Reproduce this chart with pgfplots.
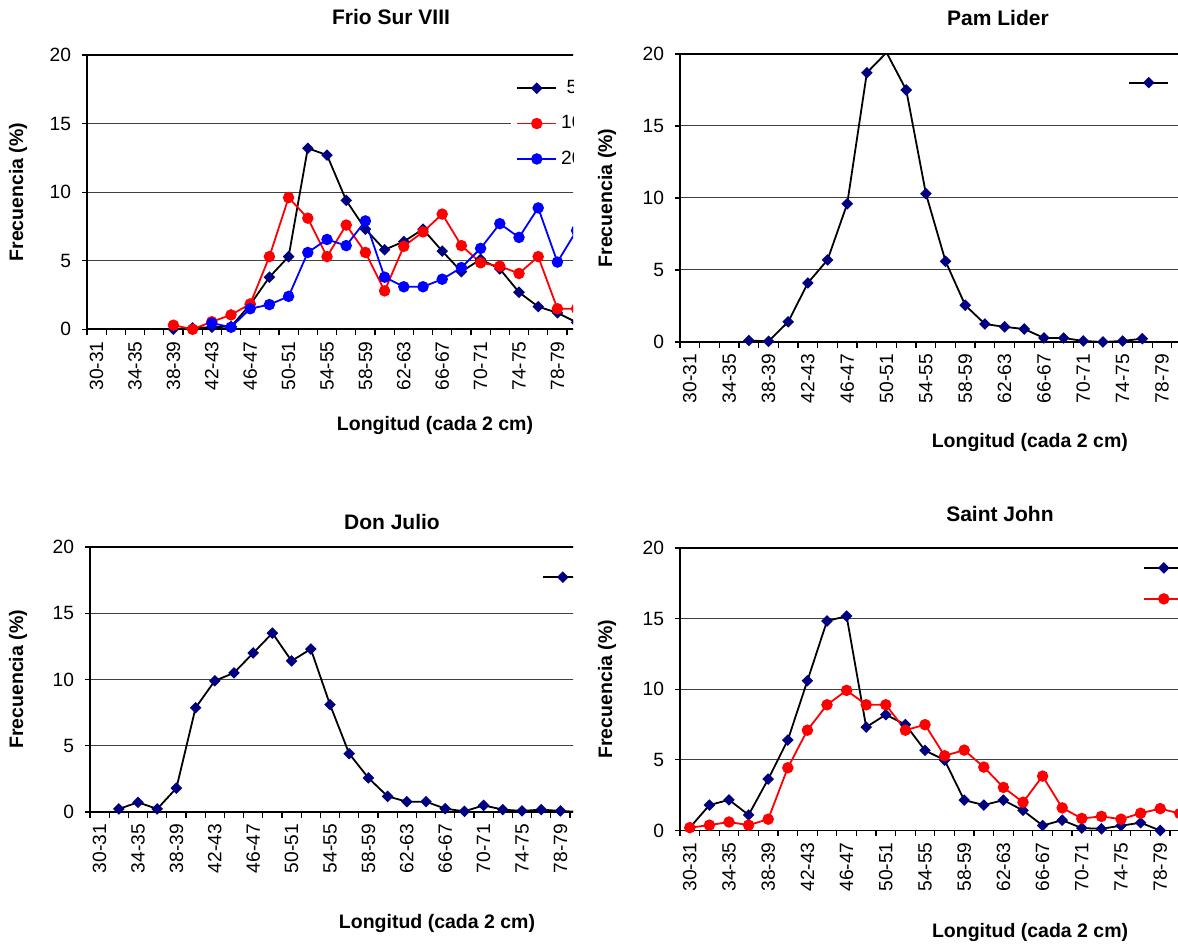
\documentclass[border=0pt]{standalone}
\usepackage{fontspec}
\setmainfont{Liberation Sans}
\usepackage{pgfplots}
\usepackage{pgfplotstable}
\pgfplotsset{compat=1.18}
\definecolor{navy}{RGB}{0,0,128}
\newcommand{\ticksize}{\fontsize{9.6}{11}\selectfont}
\newcommand{\labelfont}{\bfseries\fontsize{9.75}{11}\selectfont}
\newcommand{\titlefont}{\bfseries\fontsize{10.5}{12}\selectfont}

\pgfplotstableread{
i v
4 0.0
5 0.1
6 0.15
7 0.2
8 1.8
9 3.8
10 5.3
11 13.2
12 12.7
13 9.4
14 7.3
15 5.8
16 6.4
17 7.3
18 5.7
19 4.2
20 5.1
21 4.4
22 2.7
23 1.65
24 1.2
25 0.5
}\frioA
\pgfplotstableread{
i v
4 0.3
5 0.0
6 0.55
7 1.05
8 1.85
9 5.3
10 9.6
11 8.1
12 5.3
13 7.6
14 5.6
15 2.8
16 6.05
17 7.1
18 8.4
19 6.1
20 4.85
21 4.6
22 4.07
23 5.3
24 1.5
25 1.5
}\frioB
\pgfplotstableread{
i v
6 0.45
7 0.15
8 1.5
9 1.8
10 2.4
11 5.6
12 6.55
13 6.1
14 7.9
15 3.8
16 3.1
17 3.1
18 3.65
19 4.5
20 5.9
21 7.7
22 6.7
23 8.85
24 4.9
25 7.2
}\frioC
\pgfplotstableread{
i v
3 0.1
4 0.05
5 1.4
6 4.1
7 5.7
8 9.6
9 18.7
10 20.1
11 17.5
12 10.3
13 5.6
14 2.55
15 1.25
16 1.05
17 0.9
18 0.28
19 0.28
20 0.07
21 0.0
22 0.07
23 0.23
}\pam
\pgfplotstableread{
i v
1 0.23
2 0.73
3 0.23
4 1.8
5 7.87
6 9.9
7 10.5
8 12.0
9 13.5
10 11.4
11 12.3
12 8.1
13 4.4
14 2.57
15 1.18
16 0.78
17 0.78
18 0.25
19 0.05
20 0.5
21 0.18
22 0.08
23 0.18
24 0.08
25 0.0
}\julio
\pgfplotstableread{
i v
0 0.2
1 1.8
2 2.17
3 1.1
4 3.64
5 6.4
6 10.6
7 14.83
8 15.18
9 7.32
10 8.2
11 7.5
12 5.67
13 4.98
14 2.15
15 1.8
16 2.15
17 1.42
18 0.35
19 0.73
20 0.17
21 0.12
22 0.34
23 0.55
24 0.0
}\johnA
\pgfplotstableread{
i v
0 0.2
1 0.38
2 0.6
3 0.38
4 0.8
5 4.44
6 7.1
7 8.9
8 9.92
9 8.9
10 8.9
11 7.1
12 7.49
13 5.29
14 5.69
15 4.49
16 3.05
17 2.0
18 3.85
19 1.6
20 0.85
21 1.0
22 0.8
23 1.22
24 1.55
25 1.2
}\johnB

\pgfplotsset{
  excelframe/.style={
    scale only axis, xmin=-0.5, xmax=26, ymin=0, ymax=20,
    ytick={0,5,10,15,20}, xtick={0,2,...,24},
    xticklabels={30-31,34-35,38-39,42-43,46-47,50-51,54-55,58-59,62-63,66-67,70-71,74-75,78-79},
    minor xtick={-0.5,0.5,...,25.5},
    tick align=outside, tick pos=left,
    major tick length=2.5pt, minor tick length=3pt,
    tick style={black, line width=0.6pt},
    major x tick style={draw=none},
    ymajorgrids, grid style={black!75, line width=0.5pt},
    axis line style={black, line width=0.8pt},
    xticklabel style={rotate=90, anchor=east, font=\ticksize},
    yticklabel style={font=\ticksize, xshift=-2pt},
    /pgf/number format/assume math mode=true,
    title style={font=\titlefont, anchor=center},
    xlabel style={font=\labelfont, anchor=center},
    ylabel style={font=\labelfont, anchor=center},
    xlabel={Longitud (cada 2 cm)},
    ylabel={Frecuencia (\%)},
    legend style={draw=none, fill=white, inner xsep=2.5pt, inner ysep=0.5pt,
      anchor=north west, font=\ticksize, row sep=5.5pt},
    legend cell align=left,
    legend image code/.code={\draw[mark repeat=2,mark phase=2,#1] plot coordinates {(0pt,0pt) (9.75pt,0pt) (19.5pt,0pt)};},
  },
  dia/.style={black, line width=0.9pt, mark=square*, mark size=1.6pt,
    mark options={solid, rotate=45, fill=navy, draw=navy}},
  redc/.style={red, line width=0.9pt, mark=*, mark size=2.4pt,
    mark options={solid, fill=red, draw=red}},
  bluec/.style={blue, line width=0.9pt, mark=*, mark size=2.4pt,
    mark options={solid, fill=blue, draw=blue}},
}

\begin{document}
\begin{tikzpicture}
\useasboundingbox (0,0) rectangle (589pt,473pt);

% ---- Frio Sur VIII ----
\begin{scope}
\clip (0pt,236.5pt) rectangle (286.5pt,473pt);
\begin{axis}[excelframe,
  at={(43.5pt,308.35pt)}, anchor=south west,
  width=254.4pt, height=137.15pt,
  title={Frio Sur VIII},
  title style={at={(axis description cs:0.5975,1.095)}},
  xlabel style={at={(axis description cs:0.684,-0.352)}},
  ylabel style={at={(axis description cs:-0.1356,0.5)}},
  legend style={at={(axis description cs:0.8333,0.928)}},
]
\addplot[dia] table[x=i,y=v] {\frioA};
\addlegendentry{\ 5}
\addplot[redc] table[x=i,y=v] {\frioB};
\addlegendentry{10}
\addplot[bluec] table[x=i,y=v] {\frioC};
\addlegendentry{20}
\end{axis}
\end{scope}

% ---- Pam Lider ----
\begin{scope}
\clip (290pt,236.5pt) rectangle (589pt,473pt);
\begin{axis}[excelframe,
  at={(340pt,302pt)}, anchor=south west,
  width=260.65pt, height=144pt,
  title={Pam Lider},
  title style={at={(axis description cs:0.610,1.0835)}},
  xlabel style={at={(axis description cs:0.671,-0.35)}},
  ylabel style={at={(axis description cs:-0.140,0.5)}},
  legend style={at={(axis description cs:0.8498,0.9245)}},
  legend image code/.code={\draw[black, line width=0.9pt] (0pt,0pt) -- (19.5pt,0pt);
     \draw[mark repeat=2,mark phase=2,#1] plot coordinates {(0pt,0pt) (9.75pt,0pt) (19.5pt,0pt)};},
]
\addplot[black, line width=0.9pt, forget plot] table[x=i,y=v] {\pam};
\addplot[dia, only marks, restrict y to domain=-1:20] table[x=i,y=v] {\pam};
\addlegendentry{}
\end{axis}
\end{scope}

% ---- Don Julio ----
\begin{scope}
\clip (0pt,0pt) rectangle (286.5pt,236.5pt);
\begin{axis}[excelframe,
  at={(45pt,67pt)}, anchor=south west,
  width=254.4pt, height=132.5pt,
  title={Don Julio},
  title style={at={(axis description cs:0.5935,1.049)}},
  xlabel style={at={(axis description cs:0.682,-0.419)}},
  ylabel style={at={(axis description cs:-0.1415,0.5)}},
  legend style={at={(axis description cs:0.8785,0.912)}},
]
\addplot[dia] table[x=i,y=v] {\julio};
\addlegendentry{}
\end{axis}
\end{scope}

% ---- Saint John ----
\begin{scope}
\clip (290pt,0pt) rectangle (589pt,236.5pt);
\begin{axis}[excelframe,
  at={(340pt,57.75pt)}, anchor=south west,
  width=259.7pt, height=141.25pt,
  title={Saint John},
  title style={at={(axis description cs:0.616,1.078)}},
  xlabel style={at={(axis description cs:0.674,-0.362)}},
  ylabel style={at={(axis description cs:-0.1405,0.5)}},
  legend style={at={(axis description cs:0.8818,0.954)}, row sep=10pt},
]
\addplot[dia] table[x=i,y=v] {\johnA};
\addlegendentry{}
\addplot[redc] table[x=i,y=v] {\johnB};
\addlegendentry{}
\end{axis}
\end{scope}
\end{tikzpicture}
\end{document}
